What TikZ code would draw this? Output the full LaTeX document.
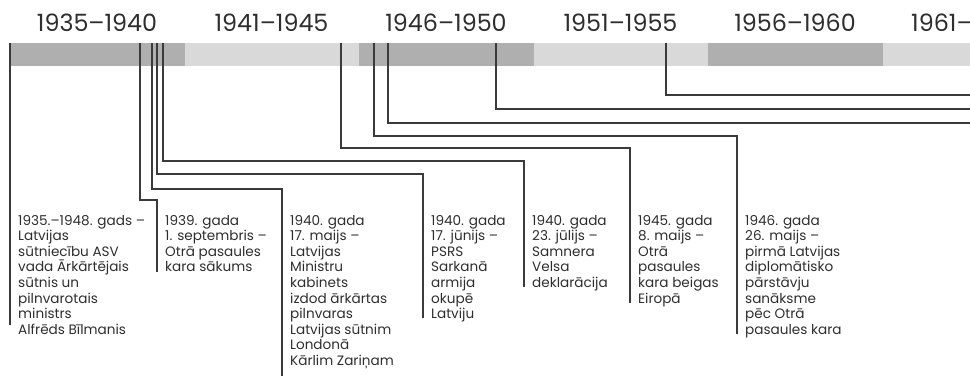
\documentclass[tikz,border=0pt]{standalone}
\usepackage{fontspec}
\setmainfont{Poppins}
\definecolor{bardark}{HTML}{AFAFAF}
\definecolor{barlight}{HTML}{D9D9D9}
\definecolor{linecol}{HTML}{3A3A3A}
\definecolor{txtcol}{HTML}{2E2E2E}
\newcommand{\evtext}[1]{\parbox[t]{140pt}{\raggedright\fontsize{13.6}{15.6}\selectfont #1}}
\begin{document}
\begin{tikzpicture}[x=1pt,y=-1pt,
  period/.style={inner sep=0pt, anchor=base, text=txtcol, font=\fontsize{23.8}{24}\selectfont},
  event/.style={inner sep=0pt, anchor=base west, text=txtcol},
  link/.style={draw=linecol, line width=1.1pt}]
\useasboundingbox (0,0) rectangle (970,376);
% timeline bar, five-year segments
\foreach \i/\c in {0/bardark,1/barlight,2/bardark,3/barlight,4/bardark,5/barlight}{
  \fill[\c] ({10+174.5*\i},43) rectangle ({10+174.5*(\i+1)},66);
}
% period labels
\node[period] (p1) at (97,31) {1935–1940};
\node[period] (p2) at (271.5,31) {1941–1945};
\node[period] (p3) at (446,31) {1946–1950};
\node[period] (p4) at (620.5,31) {1951–1955};
\node[period] (p5) at (795,31) {1956–1960};
\node[period, anchor=base west] (p6) at (911,31) {1961–};
% event texts
\node[event] (t1) at (18,225) {\evtext{1935.–1948. gads –\\Latvijas\\sūtniecību ASV\\vada Ārkārtējais\\sūtnis un\\pilnvarotais\\ministrs\\Alfrēds Bīlmanis}};
\node[event] (t2) at (165,225) {\evtext{1939. gada\\1. septembris –\\Otrā pasaules\\kara sākums}};
\node[event] (t3) at (290,225) {\evtext{1940. gada\\17. maijs –\\Latvijas\\Ministru\\kabinets\\izdod ārkārtas\\pilnvaras\\Latvijas sūtnim\\Londonā\\Kārlim Zariņam}};
\node[event] (t4) at (431,225) {\evtext{1940. gada\\17. jūnijs –\\PSRS\\Sarkanā\\armija\\okupē\\Latviju}};
\node[event] (t5) at (532,225) {\evtext{1940. gada\\23. jūlijs –\\Samnera\\Velsa\\deklarācija}};
\node[event] (t6) at (638,225) {\evtext{1945. gada\\8. maijs –\\Otrā\\pasaules\\kara beigas\\Eiropā}};
\node[event] (t7) at (745,225) {\evtext{1946. gada\\26. maijs –\\pirmā Latvijas\\diplomātisko\\pārstāvju\\sanāksme\\pēc Otrā\\pasaules kara}};
% connector start points on the bar
\coordinate (s1) at (10,43);
\coordinate (s2) at (140,43);
\coordinate (s3) at (152,43);
\coordinate (s4) at (157,43);
\coordinate (s5) at (163,43);
\coordinate (s6) at (341,43);
\coordinate (s7) at (374,43);
\coordinate (s8) at (388,43);
\coordinate (s9) at (496,43);
\coordinate (s10) at (666,43);
% connector ends
\coordinate (e8) at (972,123);
\coordinate (e9) at (972,109);
\coordinate (e10) at (972,95);
% connectors
\draw[link] (s1) -- (10,325);
\draw[link] (s2) |- (157,200) -- (157,272);
\draw[link] (s3) |- (282,189) -- (282,376);
\draw[link] (s4) |- (423,174) -- (423,318);
\draw[link] (s5) |- (524,161) -- (524,287);
\draw[link] (s6) |- (630,148) -- (630,303);
\draw[link] (s7) |- (737,136) -- (737,334);
\draw[link] (s8) |- (e8);
\draw[link] (s9) |- (e9);
\draw[link] (s10) |- (e10);
\end{tikzpicture}
\end{document}
